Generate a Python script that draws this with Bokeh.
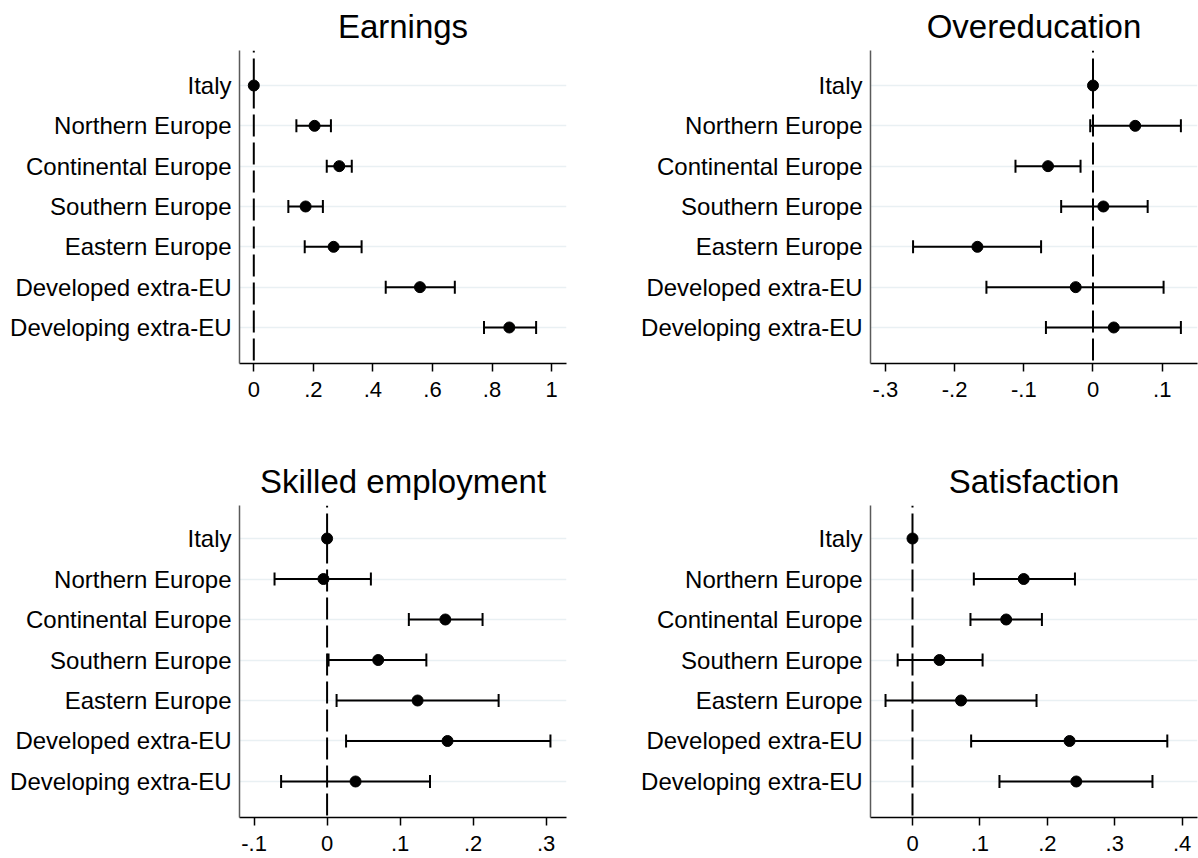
from bokeh.plotting import figure
from bokeh.models import Range1d, FixedTicker, Span, Whisker, TeeHead, ColumnDataSource
from bokeh.layouts import gridplot
from bokeh.embed import file_html
from bokeh.resources import INLINE

# ---------------- data ----------------
categories = ["Italy", "Northern Europe", "Continental Europe", "Southern Europe",
              "Eastern Europe", "Developed extra-EU", "Developing extra-EU"]

earn_coef = [0.0, 0.204, 0.287, 0.174, 0.268, 0.558, 0.858]
earn_lo   = [0.0, 0.143, 0.245, 0.116, 0.171, 0.443, 0.773]
earn_hi   = [0.0, 0.259, 0.329, 0.232, 0.362, 0.675, 0.948]

over_coef = [0.0, 0.061, -0.065, 0.015, -0.167, -0.025, 0.030]
over_lo   = [0.0, -0.004, -0.112, -0.046, -0.260, -0.154, -0.068]
over_hi   = [0.0, 0.127, -0.018, 0.079, -0.075, 0.102, 0.127]

skill_coef = [0.0, -0.005, 0.162, 0.070, 0.124, 0.165, 0.039]
skill_lo   = [0.0, -0.072, 0.112, 0.002, 0.013, 0.026, -0.063]
skill_hi   = [0.0, 0.060, 0.213, 0.136, 0.235, 0.306, 0.141]

sat_coef = [0.0, 0.165, 0.139, 0.040, 0.072, 0.233, 0.243]
sat_lo   = [0.0, 0.091, 0.086, -0.022, -0.040, 0.087, 0.129]
sat_hi   = [0.0, 0.241, 0.192, 0.104, 0.184, 0.378, 0.356]

earn_ticks = [0, 0.2, 0.4, 0.6, 0.8, 1]
earn_tick_labels = ["0", ".2", ".4", ".6", ".8", "1"]
over_ticks = [-0.3, -0.2, -0.1, 0, 0.1]
over_tick_labels = ["-.3", "-.2", "-.1", "0", ".1"]
skill_ticks = [-0.1, 0, 0.1, 0.2, 0.3]
skill_tick_labels = ["-.1", "0", ".1", ".2", ".3"]
sat_ticks = [0, 0.1, 0.2, 0.3, 0.4]
sat_tick_labels = ["0", ".1", ".2", ".3", ".4"]

FONT = "Liberation Sans"


def make_panel(title, coef, lo, hi, ticks, tick_labels, xr, yr,
               width, height, bl, bt, br, bb):
    p = figure(width=width, height=height, output_backend="svg",
               toolbar_location=None, x_range=Range1d(*xr), y_range=Range1d(*yr),
               min_border_left=bl, min_border_top=bt, min_border_right=br,
               min_border_bottom=bb)
    p.outline_line_color = None
    p.background_fill_color = "white"
    p.border_fill_color = "white"

    # title
    p.title.text = title
    p.title.text_font = FONT
    p.title.text_font_size = "33px"
    p.title.text_font_style = "normal"
    p.title.text_color = "black"
    p.title.align = "center"
    p.title.standoff = 11

    pos = list(range(1, len(categories) + 1))

    # y axis
    p.yaxis.ticker = FixedTicker(ticks=pos)
    p.yaxis.major_label_overrides = {i: c for i, c in zip(pos, categories)}
    p.yaxis.major_tick_out = 0
    p.yaxis.major_tick_in = 0
    p.yaxis.minor_tick_out = 0
    p.yaxis.minor_tick_in = 0
    p.yaxis.major_label_standoff = 8
    p.yaxis.major_label_text_font = FONT
    p.yaxis.major_label_text_font_size = "24px"
    p.yaxis.major_label_text_color = "black"
    p.yaxis.axis_line_color = "#5a5a5a"
    p.yaxis.axis_line_width = 1.5

    # x axis
    p.xaxis.ticker = FixedTicker(ticks=ticks)
    p.xaxis.major_label_overrides = {t: l for t, l in zip(ticks, tick_labels)}
    p.xaxis.major_tick_out = 8
    p.xaxis.major_tick_in = 0
    p.xaxis.minor_tick_out = 0
    p.xaxis.minor_tick_in = 0
    p.xaxis.major_tick_line_width = 1.5
    p.xaxis.major_tick_line_color = "black"
    p.xaxis.major_label_standoff = 10
    p.xaxis.major_label_text_font = FONT
    p.xaxis.major_label_text_font_size = "22px"
    p.xaxis.major_label_text_color = "black"
    p.xaxis.axis_line_color = "black"
    p.xaxis.axis_line_width = 1.5

    # grids
    p.xgrid.grid_line_color = None
    p.ygrid.grid_line_color = "#e9f0f3"
    p.ygrid.grid_line_width = 1.5

    # zero reference line
    zero = Span(location=0, dimension="height", line_color="black",
                line_width=2, line_dash="22 6", line_dash_offset=20)
    p.add_layout(zero)

    # confidence intervals (skip zero-width ones, e.g. the reference group)
    ci = dict(y=[], lo=[], hi=[])
    for y, l, h in zip(pos, lo, hi):
        if h != l:
            ci["y"].append(y)
            ci["lo"].append(l)
            ci["hi"].append(h)
    ci_src = ColumnDataSource(ci)
    w = Whisker(source=ci_src, base="y", lower="lo", upper="hi",
                dimension="width", line_color="black", line_width=2,
                upper_head=TeeHead(size=13, line_width=2, line_color="black"),
                lower_head=TeeHead(size=13, line_width=2, line_color="black"))
    p.add_layout(w)

    # point estimates
    p.scatter(x=coef, y=pos, size=11, color="black")
    return p


p1 = make_panel("Earnings", earn_coef, earn_lo, earn_hi, earn_ticks, earn_tick_labels,
                (-0.048, 1.050), (7.893, 0.132), 598, 450, 239, 50, 32, 87)
p2 = make_panel("Overeducation", over_coef, over_lo, over_hi, over_ticks, over_tick_labels,
                (-0.3215, 0.151), (7.893, 0.132), 600, 450, 272, 50, 1, 87)
p3 = make_panel("Skilled employment", skill_coef, skill_lo, skill_hi, skill_ticks, skill_tick_labels,
                (-0.120, 0.328), (7.889, 0.185), 598, 407, 239, 55, 32, 40)
p4 = make_panel("Satisfaction", sat_coef, sat_lo, sat_hi, sat_ticks, sat_tick_labels,
                (-0.0623, 0.4228), (7.889, 0.185), 600, 407, 272, 55, 1, 40)

layout = gridplot([[p1, p2], [p3, p4]], toolbar_location=None)

open("out.html", "w").write(file_html(layout, INLINE))
